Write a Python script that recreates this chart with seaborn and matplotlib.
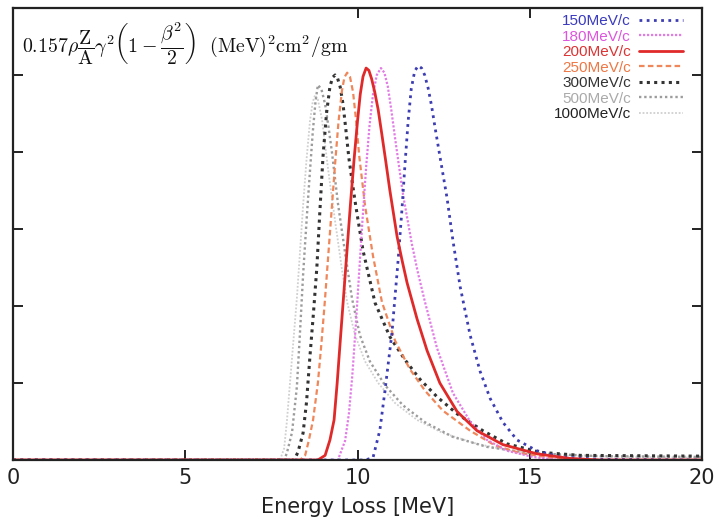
import matplotlib
matplotlib.use("Agg")
import matplotlib.pyplot as plt
import matplotlib.patches as mpatches
import seaborn as sns
import pandas as pd

# Energy-loss distributions (arbitrary y units)
labels = ['150MeV/c', '180MeV/c', '200MeV/c', '250MeV/c', '300MeV/c', '500MeV/c', '1000MeV/c']

x_150 = [0, 10.22, 10.45, 10.65, 10.80, 11.00, 11.18, 11.29, 11.38, 11.47, 11.56, 11.66, 11.76, 11.86,
         11.95, 12.05, 12.15, 12.25, 12.39, 12.60, 12.77, 12.98, 13.27, 13.56, 13.85, 14.22, 14.63,
         15.21, 15.88, 17.04, 20]
y_150 = [0, 0, 0.03, 0.39, 0.91, 1.65, 2.60, 3.25, 3.85, 4.40, 4.82, 5.05, 5.12, 5.09,
         5.00, 4.83, 4.60, 4.32, 3.95, 3.40, 2.85, 2.25, 1.62, 1.15, 0.80, 0.49, 0.26,
         0.12, 0.04, 0.01, 0]

x_180 = [0, 9.43, 9.64, 9.75, 9.85, 9.95, 10.05, 10.15, 10.25, 10.35, 10.45, 10.56, 10.68, 10.78,
         10.88, 10.98, 11.10, 11.32, 11.58, 11.76, 11.96, 12.31, 12.77, 13.27, 13.76, 14.34, 15.09,
         15.88, 20]
y_180 = [0, 0, 0.25, 0.60, 1.10, 1.75, 2.45, 3.15, 3.80, 4.35, 4.75, 5.00, 5.09, 5.03,
         4.85, 4.55, 4.15, 3.45, 2.80, 2.42, 2.05, 1.45, 0.87, 0.50, 0.26, 0.12, 0.04,
         0, 0]

x_200 = [0, 8.85, 9.06, 9.20, 9.32, 9.41, 9.50, 9.60, 9.70, 9.80, 9.90, 10.00, 10.08, 10.16, 10.25,
         10.33, 10.41, 10.50, 10.60, 10.71, 10.82, 10.94, 11.15, 11.30, 11.44, 11.73, 12.02, 12.39,
         12.89, 13.47, 14.22, 15.21, 16.17, 17.04, 20]
y_200 = [0, 0, 0.06, 0.26, 0.52, 1.00, 1.55, 2.15, 2.75, 3.35, 3.90, 4.40, 4.75, 4.98, 5.09,
         5.06, 4.95, 4.78, 4.55, 4.22, 3.88, 3.50, 2.90, 2.58, 2.30, 1.83, 1.42, 1.00,
         0.63, 0.38, 0.20, 0.08, 0.02, 0, 0]

x_250 = [0, 8.33, 8.48, 8.59, 8.71, 8.85, 8.95, 9.05, 9.15, 9.25, 9.35, 9.45, 9.55, 9.62, 9.70,
         9.78, 9.87, 9.95, 10.05, 10.22, 10.45, 10.71, 11.09, 11.52, 11.96, 12.48, 13.27, 13.99,
         14.72, 15.59, 17.04, 20]
y_250 = [0, 0, 0.06, 0.26, 0.52, 1.00, 1.50, 2.05, 2.65, 3.25, 3.85, 4.40, 4.80, 4.97, 5.03,
         4.98, 4.78, 4.45, 3.95, 3.30, 2.65, 2.05, 1.55, 1.18, 0.90, 0.64, 0.38, 0.19,
         0.09, 0.03, 0, 0]

x_300 = [0, 8.16, 8.27, 8.42, 8.52, 8.62, 8.72, 8.82, 8.91, 9.00, 9.10, 9.20, 9.28, 9.35, 9.42,
         9.50, 9.58, 9.66, 9.75, 9.85, 9.95, 10.16, 10.51, 10.94, 11.38, 11.81, 12.31, 12.89,
         13.64, 14.34, 15.30, 16.46, 20]
y_300 = [0, 0, 0.10, 0.35, 0.75, 1.35, 1.90, 2.50, 3.25, 3.95, 4.50, 4.85, 4.97, 5.00, 4.96,
         4.84, 4.62, 4.30, 3.92, 3.60, 3.30, 2.72, 2.04, 1.60, 1.30, 1.05, 0.82, 0.60,
         0.38, 0.21, 0.10, 0.06, 0.05]

x_500 = [0, 7.87, 7.95, 8.10, 8.24, 8.33, 8.42, 8.52, 8.62, 8.70, 8.78, 8.85, 8.95, 9.06, 9.16,
         9.26, 9.43, 9.64, 9.84, 10.07, 10.36, 10.80, 11.32, 11.96, 12.77, 13.76, 15.01, 17.04, 20]
y_500 = [0, 0, 0.09, 0.36, 0.95, 1.65, 2.40, 3.10, 3.75, 4.25, 4.65, 4.87, 4.82, 4.62, 4.32,
         3.99, 3.34, 2.69, 2.10, 1.62, 1.28, 0.97, 0.71, 0.49, 0.30, 0.17, 0.09, 0.05, 0.04]

x_1000 = [0, 7.75, 7.87, 7.95, 8.04, 8.14, 8.24, 8.33, 8.42, 8.52, 8.62, 8.70, 8.77, 8.85, 8.97,
          9.14, 9.35, 9.55, 9.70, 9.93, 10.22, 10.60, 11.09, 11.73, 12.48, 13.47, 14.43, 15.88,
          17.62, 20]
y_1000 = [0, 0, 0.15, 0.50, 1.00, 1.55, 2.10, 2.70, 3.30, 3.90, 4.40, 4.65, 4.74, 4.68, 4.42,
          3.80, 3.10, 2.47, 2.05, 1.62, 1.28, 1.00, 0.74, 0.52, 0.35, 0.21, 0.12, 0.06,
          0.04, 0.03]

xs = [x_150, x_180, x_200, x_250, x_300, x_500, x_1000]
ys = [y_150, y_180, y_200, y_250, y_300, y_500, y_1000]

line_colors = ['#3d3db3', '#e27be6', '#e02a2a', '#f0875a', '#333333', '#9c9c9c', '#cfcfcf']
text_colors = ['#3a3ac0', '#dd55dd', '#dd3333', '#ee7744', '#333333', '#aaaaaa', '#222222']
line_styles = [(0, (1, 1.6)), (0, (1, 0.8)), '-', (0, (2.5, 1.5)), (0, (1, 1.4)), (0, (1, 1.2)), (0, (1, 1))]
line_widths = [2.0, 1.6, 2.0, 1.6, 2.2, 1.7, 1.3]

sns.set_theme(style="white")
plt.rcParams['font.family'] = ['DejaVu Sans']
plt.rcParams['mathtext.fontset'] = 'cm'

fig = plt.figure(figsize=(7.16, 5.27), dpi=100)
ax = fig.add_axes([13 / 716, 67 / 527, 689 / 716, 452 / 527])

# draw back to front, red solid curve last so it sits on top
order = [6, 5, 4, 3, 1, 0, 2]
handles = {}
for i in order:
    df = pd.DataFrame({'x': xs[i], 'y': ys[i]})
    sns.lineplot(data=df, x='x', y='y', ax=ax, color=line_colors[i], linestyle=line_styles[i],
                 linewidth=line_widths[i], label=labels[i])
    handles[i] = ax.get_lines()[-1]

ax.set_xlim(0, 20)
ax.set_ylim(0, 452 / 77)
ax.set_xticks([0, 5, 10, 15, 20])
ax.set_yticks([1, 2, 3, 4, 5])
ax.set_yticklabels([])
ax.tick_params(axis='both', direction='in', length=7, width=1.4, color='#222222',
               top=True, right=True, bottom=True, left=True)
ax.tick_params(axis='x', labelsize=15, pad=6, labelcolor='#222222')
ax.set_xlabel('Energy Loss [MeV]', fontsize=15, color='#222222', labelpad=6)
ax.set_ylabel('')
for s in ax.spines.values():
    s.set_color('#222222')
    s.set_linewidth(1.6)
    s.set_zorder(8)

# white panel behind the formula
y0 = (460 - 70) / 452
ax.add_patch(mpatches.Rectangle((0, y0), (356 - 13) / 689, 1 - y0, transform=ax.transAxes,
                                facecolor='white', edgecolor='none', zorder=5))
ax.text(0.013, 0.921,
        r'$0.157\rho\dfrac{\mathrm{Z}}{\mathrm{A}}\gamma^2\left(1-\dfrac{\beta^2}{2}\right)\ \ (\mathrm{MeV})^2\mathrm{cm}^2/\mathrm{gm}$',
        transform=ax.transAxes, fontsize=14.3, va='center', ha='left', color='#111111', zorder=6)

leg = ax.legend(handles=[handles[i] for i in range(7)], labels=labels, loc='upper right',
                bbox_to_anchor=(0.988, 1.01), markerfirst=False, frameon=True, fancybox=False,
                edgecolor='white', facecolor='white', framealpha=1, handlelength=2.9,
                handletextpad=0.5, labelspacing=0.1, borderpad=0.2,
                prop={'family': ['Liberation Sans'], 'size': 11})
leg.set_zorder(7)
for t, c in zip(leg.get_texts(), text_colors):
    t.set_color(c)

fig.savefig('out.png', dpi=100)
